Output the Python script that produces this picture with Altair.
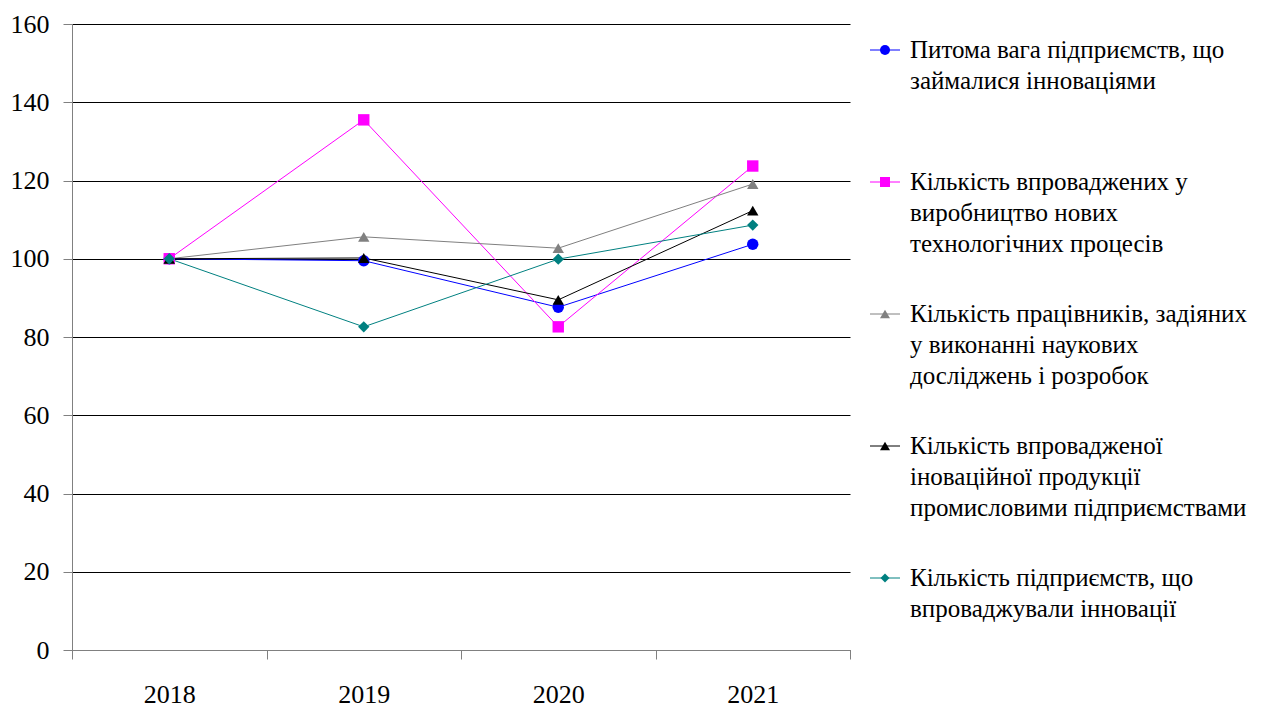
import altair as alt
import pandas as pd

years = ["2018", "2019", "2020", "2021"]

series_names = [
    "Питома вага підприємств, що\nзаймалися інноваціями",
    "Кількість впроваджених у\nвиробництво  нових\nтехнологічних процесів",
    "Кількість працівників, задіяних\nу виконанні наукових\nдосліджень і розробок",
    "Кількість впровадженої\nіноваційної продукції\nпромисловими підприємствами",
    "Кількість підприємств, що\nвпроваджували інновації",
]

share_innovating = [100, 99.5, 87.6, 103.7]
new_processes = [100, 135.5, 82.6, 123.7]
rd_workers = [100, 105.6, 102.7, 119.1]
innovative_products = [100, 100.2, 89.5, 112.3]
enterprises_implementing = [100, 82.6, 99.9, 108.6]

all_values = [share_innovating, new_processes, rd_workers,
              innovative_products, enterprises_implementing]

colors = ["#0000FF", "#FF00FF", "#808080", "#000000", "#008080"]
marker_shapes = ["circle", "square", "triangle-up", "triangle-up", "diamond"]

rows = []
for name, vals in zip(series_names, all_values):
    for yr, v in zip(years, vals):
        rows.append({"year": yr, "value": v, "series": name})
df = pd.DataFrame(rows)
legend_df = pd.DataFrame({"series": series_names})

FONT = "Times New Roman, Liberation Serif, serif"
LEGEND_FONT = "Times New Roman, Liberation Serif, DejaVu Serif, serif"

x_enc = alt.X(
    "year:N", sort=years, title=None,
    scale=alt.Scale(type="band", paddingInner=0, paddingOuter=0),
    axis=alt.Axis(tickBand="extent", labelAngle=0, labelFont=FONT, labelFontSize=26,
                  labelColor="black", domainColor="#808080", tickColor="#808080",
                  tickSize=9, labelPadding=22, grid=False),
)
y_scale = alt.Scale(domain=[0, 160], nice=False, zero=True)
y_enc = alt.Y(
    "value:Q", title=None, scale=y_scale,
    axis=alt.Axis(values=[0, 20, 40, 60, 80, 100, 120, 140, 160], grid=True,
                  gridColor="#000000", gridWidth=1, labelFont=FONT, labelFontSize=26,
                  labelColor="black", domainColor="#808080", tickColor="#808080",
                  tickSize=9, labelPadding=14),
)

color_scale = alt.Scale(domain=series_names, range=colors)

lines = alt.Chart(df).mark_line(strokeWidth=1).encode(
    x=x_enc, y=y_enc,
    color=alt.Color("series:N", scale=color_scale, legend=None),
    detail="series:N",
)

point_layers = []
for name, col, shp in zip(series_names, colors, marker_shapes):
    point_layers.append(
        alt.Chart(df).transform_filter(alt.datum.series == name)
        .mark_point(filled=True, opacity=1, shape=shp, size=130, color=col)
        .encode(x=x_enc, y=y_enc)
    )

data_group = alt.layer(lines, *point_layers)

# legend (built from the series list, placed on its own point scale)
leg_y = alt.Y("series:N", sort=series_names, axis=None, title=None,
              scale=alt.Scale(type="point", domain=series_names, range=[26, 554], padding=0))

leg_rules = alt.Chart(legend_df).mark_rule(strokeWidth=1).encode(
    x=alt.value(798), x2=alt.value(828), y=leg_y,
    color=alt.Color("series:N", scale=color_scale, legend=None),
)
leg_points = []
for name, col, shp in zip(series_names, colors, marker_shapes):
    leg_points.append(
        alt.Chart(legend_df).transform_filter(alt.datum.series == name)
        .mark_point(filled=True, opacity=1, shape=shp,
                    size=80 if shp == "diamond" else 100, color=col)
        .encode(x=alt.value(813), y=leg_y)
    )
leg_text = alt.Chart(legend_df).mark_text(
    align="left", baseline="alphabetic", dy=8, lineBreak="\n", lineHeight=31,
    font=LEGEND_FONT, fontSize=25, color="black",
).encode(x=alt.value(838), y=leg_y, text="series:N")

legend_group = alt.layer(leg_rules, *leg_points, leg_text)

chart = alt.layer(data_group, legend_group).resolve_scale(
    y="independent", color="shared"
).properties(
    width=778, height=626,
    autosize=alt.AutoSizeParams(type="none"),
    padding={"left": 64, "top": 16, "right": 419, "bottom": 62},
).configure(
    background="white",
).configure_view(stroke=None)

chart.save("out.html", embed_options={"renderer": "svg", "actions": False})
